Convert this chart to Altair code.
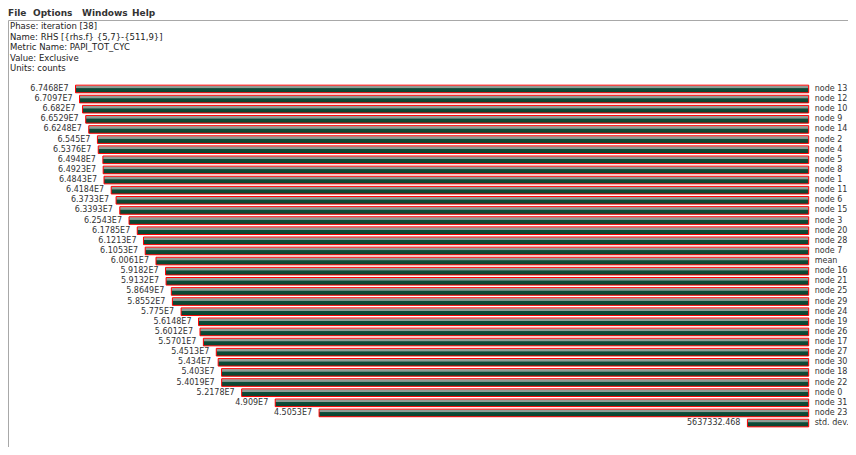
import altair as alt
import pandas as pd

menu_items = ["File", "Options", "Windows", "Help"]
menu_x = [0, 25, 74, 124]

header_lines = [
    "Phase: iteration [38]",
    "Name: RHS [{rhs.f} {5,7}-{511,9}]",
    "Metric Name: PAPI_TOT_CYC",
    "Value: Exclusive",
    "Units: counts",
]

nodes = ["node 13", "node 12", "node 10", "node 9", "node 14", "node 2", "node 4",
         "node 5", "node 8", "node 1", "node 11", "node 6", "node 15", "node 3",
         "node 20", "node 28", "node 7", "mean", "node 16", "node 21", "node 25",
         "node 29", "node 24", "node 19", "node 26", "node 17", "node 27", "node 30",
         "node 18", "node 22", "node 0", "node 31", "node 23", "std. dev."]

value_labels = ["6.7468E7", "6.7097E7", "6.682E7", "6.6529E7", "6.6248E7", "6.545E7",
                "6.5376E7", "6.4948E7", "6.4923E7", "6.4843E7", "6.4184E7", "6.3733E7",
                "6.3393E7", "6.2543E7", "6.1785E7", "6.1213E7", "6.1053E7", "6.0061E7",
                "5.9182E7", "5.9132E7", "5.8649E7", "5.8552E7", "5.775E7", "5.6148E7",
                "5.6012E7", "5.5701E7", "5.4513E7", "5.434E7", "5.403E7", "5.4019E7",
                "5.2178E7", "4.909E7", "4.5053E7", "5637332.468"]

values = [67468000, 67097000, 66820000, 66529000, 66248000, 65450000,
          65376000, 64948000, 64923000, 64843000, 64184000, 63733000,
          63393000, 62543000, 61785000, 61213000, 61053000, 60061000,
          59182000, 59132000, 58649000, 58552000, 57750000, 56148000,
          56012000, 55701000, 54513000, 54340000, 54030000, 54019000,
          52178000, 49090000, 45053000, 5637332.468]

df = pd.DataFrame({"node": nodes, "label": value_labels, "value": values})
one = pd.DataFrame({"k": [0]})

FONT = "DejaVu Sans"

x = alt.X("value:Q", scale=alt.Scale(domain=[0, max(values)], range=[800.7, 67.5],
                                       nice=False, zero=True), axis=None)
y = alt.Y("node:N", scale=alt.Scale(domain=nodes, range=[75.9, 420.1],
                                      paddingInner=0.25, paddingOuter=0.125), axis=None)

grad = alt.Gradient(
    gradient="linear",
    stops=[
        alt.GradientStop(color="#c9cfcb", offset=0.0),
        alt.GradientStop(color="#8e9c95", offset=0.15),
        alt.GradientStop(color="#8e9c95", offset=0.35),
        alt.GradientStop(color="#0e4b37", offset=0.45),
        alt.GradientStop(color="#0a432f", offset=1.0),
    ],
    x1=0, x2=0, y1=0, y2=1,
)

base = alt.Chart(df)

bars = base.mark_rect(fill=grad, stroke="#ff0000", strokeWidth=1).encode(
    x=x, x2=alt.datum(0), y=y
)

vlabels = base.mark_text(align="right", baseline="middle", dx=-7, fontSize=8,
                         font=FONT, color="#333333").encode(x=x, y=y, text="label:N")

nlabels = base.mark_text(align="left", baseline="middle", dx=6, fontSize=8,
                         font=FONT, color="#333333").encode(
    x=alt.X(datum=0), y=y, text="node:N")

layers = [bars, vlabels, nlabels]

# menu bar
for item, mx in zip(menu_items, menu_x):
    layers.append(
        alt.Chart(one).mark_text(text=item, align="left", baseline="alphabetic",
                                 fontSize=9, fontWeight="bold", font=FONT,
                                 color="#333333").encode(x=alt.value(mx), y=alt.value(8))
    )

# panel borders
layers.append(alt.Chart(one).mark_rule(color="#a8a8a8", strokeWidth=1).encode(
    x=alt.value(0.5), x2=alt.value(840), y=alt.value(12.5)))
layers.append(alt.Chart(one).mark_rule(color="#a8a8a8", strokeWidth=1).encode(
    x=alt.value(0.5), y=alt.value(12.5), y2=alt.value(439)))

# header lines
for i, line in enumerate(header_lines):
    layers.append(
        alt.Chart(one).mark_text(text=line, align="left", baseline="alphabetic",
                                 fontSize=8.5, font=FONT, color="#222222").encode(
            x=alt.value(2), y=alt.value(21 + i * 10.5))
    )

chart = alt.layer(*layers).properties(
    width=840, height=439,
    autosize=alt.AutoSizeParams(type="none"),
    padding=0,
    background="white",
).configure_view(strokeWidth=0)

chart.save("out.html", embed_options={"renderer": "svg", "actions": False})
